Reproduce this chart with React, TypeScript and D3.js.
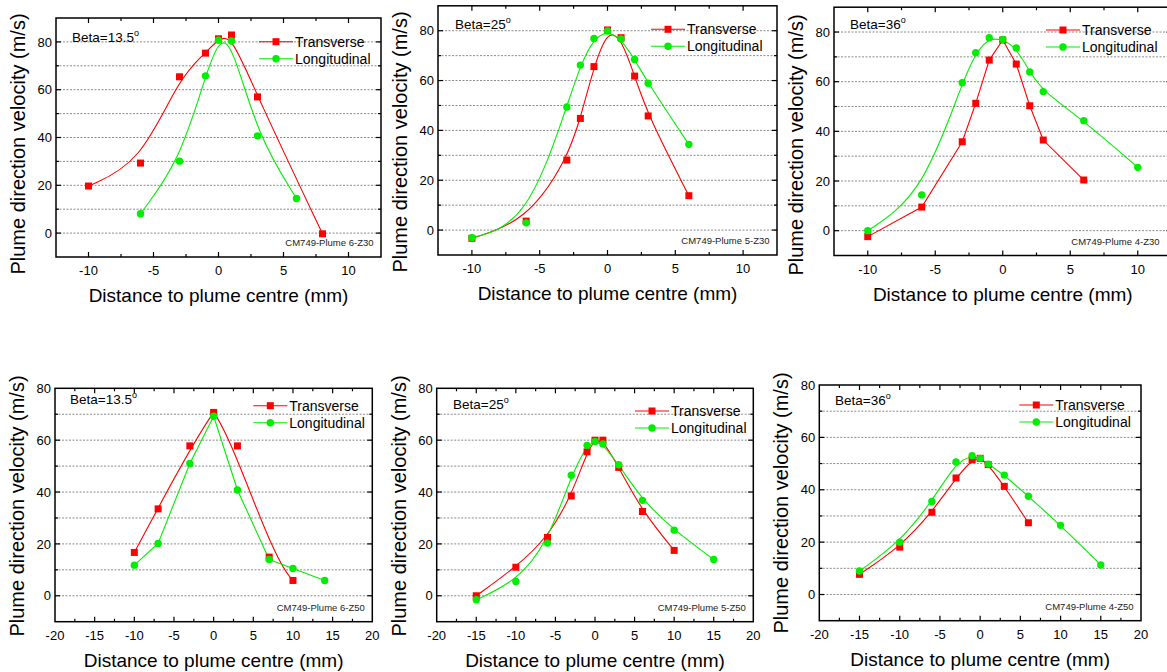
import React from 'react';
import * as d3 from 'd3';

// ---------------- data ----------------
// Top row (Z30)
const p1TransX = [-10, -6, -3, -1, 0, 1, 3, 8];
const p1TransY = [19.7, 29.3, 65.4, 75.3, 81.3, 82.9, 57, -0.3];
const p1LongX = [-6, -3, -1, 0, 1, 3, 6];
const p1LongY = [8.1, 30.1, 65.8, 80.7, 80.4, 40.7, 14.5];

const p2TransX = [-10, -6, -3, -2, -1, 0, 1, 2, 3, 6];
const p2TransY = [-3.3, 3.6, 28.1, 44.8, 65.6, 80.3, 77.2, 61.8, 45.8, 13.8];
const p2LongX = [-10, -6, -3, -2, -1, 0, 1, 2, 3, 6];
const p2LongY = [-3.1, 2.9, 49.4, 66.2, 76.9, 79.9, 76.7, 68.5, 58.9, 34.4];

const p3TransX = [-10, -6, -3, -2, -1, 0, 1, 2, 3, 6];
const p3TransY = [-2.4, 9.5, 35.8, 51.3, 68.7, 76.8, 67.1, 50.3, 36.5, 20.4];
const p3LongX = [-10, -6, -3, -2, -1, 0, 1, 2, 3, 6, 10];
const p3LongY = [0, 14.4, 59.6, 71.7, 77.7, 77, 73.6, 63.9, 56, 44.3, 25.5];

// Bottom row (Z50)
const p4TransX = [-10, -7, -3, 0, 3, 7, 10];
const p4TransY = [16.7, 33.5, 57.8, 70.7, 57.8, 14.9, 5.9];
const p4LongX = [-10, -7, -3, 0, 3, 7, 10, 14];
const p4LongY = [11.8, 20.2, 51, 69.2, 40.8, 14, 10.5, 5.9];

const p5TransX = [-15, -10, -6, -3, -1, 0, 1, 3, 6, 10];
const p5TransY = [0, 11, 22.5, 38.5, 55.5, 60, 60, 49.5, 32.5, 17.5];
const p5LongX = [-15, -10, -6, -3, -1, 0, 1, 3, 6, 10, 15];
const p5LongY = [-1.5, 5.5, 20.3, 46.5, 58, 59.5, 58.5, 50.5, 36.8, 25.3, 14];

const p6TransX = [-15, -10, -6, -3, -1, 0, 1, 3, 6];
const p6TransY = [7.7, 18.1, 31.4, 44.5, 51.5, 52, 49.6, 41.3, 27.4];
const p6LongX = [-15, -10, -6, -3, -1, 0, 1, 3, 6, 10, 15];
const p6LongY = [9, 20, 35.5, 50.6, 53, 52, 49.8, 45.6, 37.5, 26.4, 11.3];

// ticks / labels
const xTicksTop = [-10, -5, 0, 5, 10];
const xTicksBottom = [-20, -15, -10, -5, 0, 5, 10, 15, 20];
const yTicks = [0, 20, 40, 60, 80];
const gridValues = [0, 10, 20, 30, 40, 50, 60, 70, 80];
const betaLabels = ['13.5', '25', '36', '13.5', '25', '36'];
const tags = [
  'CM749-Plume 6-Z30',
  'CM749-Plume 5-Z30',
  'CM749-Plume 4-Z30',
  'CM749-Plume 6-Z50',
  'CM749-Plume 5-Z50',
  'CM749-Plume 4-Z50',
];
const seriesNames = ['Transverse', 'Longitudinal'];
const xTitle = 'Distance to plume centre (mm)';
const yTitle = 'Plume direction velocity (m/s)';

// Origin-style Bezier connection (groups of 4 points sharing endpoints)
function curveOriginBezier(context: any) {
  let pts: [number, number][] = [];
  return {
    areaStart() {},
    areaEnd() {},
    lineStart() {
      pts = [];
    },
    point(x: number, y: number) {
      pts.push([+x, +y]);
    },
    lineEnd() {
      if (!pts.length) return;
      context.moveTo(pts[0][0], pts[0][1]);
      let i = 0;
      for (; i + 3 < pts.length; i += 3) {
        context.bezierCurveTo(
          pts[i + 1][0], pts[i + 1][1],
          pts[i + 2][0], pts[i + 2][1],
          pts[i + 3][0], pts[i + 3][1]
        );
      }
      for (i = i + 1; i < pts.length; i++) context.lineTo(pts[i][0], pts[i][1]);
    },
  };
}

const zip = (xs: number[], ys: number[]) => xs.map((v, i) => [v, ys[i]] as [number, number]);

// ---------------- layout ----------------
const FONT = '"Liberation Sans", Arial, Helvetica, sans-serif';
const RED = '#ff0000';
const GREEN = '#00ee00';

type PanelCfg = {
  left: number; top: number; right: number; bottom: number;
  xDomain: [number, number]; yDomain: [number, number];
  xTicks: number[]; xStep: number;
  trans: [number, number][]; long: [number, number][];
  transCurve: any; longCurve: any;
  beta: string; tag: string;
  betaX: number; betaY: number;
  legX: number; legY: number;
  yTitleY: number;
};

const panels: PanelCfg[] = [
  {
    left: 56, top: 18, right: 381, bottom: 257,
    xDomain: [-12.5, 12.5], yDomain: [-10, 90], xTicks: xTicksTop, xStep: 5,
    trans: zip(p1TransX, p1TransY), long: zip(p1LongX, p1LongY),
    transCurve: d3.curveBasis, longCurve: d3.curveBasis,
    beta: betaLabels[0], tag: tags[0],
    betaX: 72, betaY: 42, legX: 259, legY: 41.7, yTitleY: 144,
  },
  {
    left: 438, top: 5.8, right: 777, bottom: 255,
    xDomain: [-12.5, 12.5], yDomain: [-10, 90], xTicks: xTicksTop, xStep: 5,
    trans: zip(p2TransX, p2TransY), long: zip(p2LongX, p2LongY),
    transCurve: d3.curveBasis, longCurve: d3.curveBasis,
    beta: betaLabels[1], tag: tags[1],
    betaX: 455, betaY: 28.5, legX: 651, legY: 29.3, yTitleY: 142,
  },
  {
    left: 834, top: 7.2, right: 1171.5, bottom: 255.5,
    xDomain: [-12.5, 12.5], yDomain: [-10, 90], xTicks: xTicksTop, xStep: 5,
    trans: zip(p3TransX, p3TransY), long: zip(p3LongX, p3LongY),
    transCurve: d3.curveLinear, longCurve: d3.curveBasis,
    beta: betaLabels[2], tag: tags[2],
    betaX: 850, betaY: 28.5, legX: 1046, legY: 30, yTitleY: 145,
  },
  {
    left: 55, top: 388.3, right: 372.3, bottom: 621.7,
    xDomain: [-20, 20], yDomain: [-10, 80], xTicks: xTicksBottom, xStep: 5,
    trans: zip(p4TransX, p4TransY), long: zip(p4LongX, p4LongY),
    transCurve: curveOriginBezier, longCurve: d3.curveLinear,
    beta: betaLabels[3], tag: tags[3],
    betaX: 70, betaY: 404, legX: 253.3, legY: 405.7, yTitleY: 506,
  },
  {
    left: 436.7, top: 388.3, right: 753.3, bottom: 621.7,
    xDomain: [-20, 20], yDomain: [-10, 80], xTicks: xTicksBottom, xStep: 5,
    trans: zip(p5TransX, p5TransY), long: zip(p5LongX, p5LongY),
    transCurve: d3.curveBasis, longCurve: d3.curveBasis,
    beta: betaLabels[4], tag: tags[4],
    betaX: 453, betaY: 409, legX: 635, legY: 411, yTitleY: 506,
  },
  {
    left: 819.3, top: 385, right: 1141, bottom: 620.7,
    xDomain: [-20, 20], yDomain: [-10, 80], xTicks: xTicksBottom, xStep: 5,
    trans: zip(p6TransX, p6TransY), long: zip(p6LongX, p6LongY),
    transCurve: d3.curveBasis, longCurve: d3.curveBasis,
    beta: betaLabels[5], tag: tags[5],
    betaX: 835, betaY: 405, legX: 1019.3, legY: 405, yTitleY: 503,
  },
];

const MAJOR = 5;
const MINOR = 3;

function Panel({ c }: { c: PanelCfg }) {
  const x = d3.scaleLinear().domain(c.xDomain).range([c.left, c.right]);
  const y = d3.scaleLinear().domain(c.yDomain).range([c.bottom, c.top]);
  const eps = 1e-6;
  const inX = (v: number) => v > c.xDomain[0] + eps && v < c.xDomain[1] - eps;
  const inY = (v: number) => v > c.yDomain[0] + eps && v < c.yDomain[1] - eps;

  const xMinor: number[] = [];
  for (let v = c.xTicks[0] - c.xStep / 2; v <= c.xDomain[1]; v += c.xStep) if (inX(v)) xMinor.push(v);
  const xMajor = c.xTicks.filter(inX);
  const yStep = yTicks[1] - yTicks[0];
  const yMinor: number[] = [];
  for (let v = yTicks[0] - yStep / 2; v <= c.yDomain[1]; v += yStep) if (inY(v)) yMinor.push(v);
  const yMajor = yTicks.filter(inY);

  const line = (curve: any) =>
    d3.line<[number, number]>().x((d) => x(d[0])).y((d) => y(d[1])).curve(curve);

  const sq = 7;
  const r = 3.7;
  const legLen = 34;
  const legGap = 17;

  return (
    <g>
      {/* grid */}
      {gridValues.filter(inY).map((v) => (
        <line key={'g' + v} x1={c.left} x2={c.right} y1={y(v)} y2={y(v)}
          stroke="#8a8a8a" strokeWidth={1} strokeDasharray="2,1.5" />
      ))}
      {/* ticks */}
      {xMajor.map((v) => (
        <g key={'xM' + v}>
          <line x1={x(v)} x2={x(v)} y1={c.bottom} y2={c.bottom - MAJOR} stroke="#000" strokeWidth={1.2} />
          <line x1={x(v)} x2={x(v)} y1={c.top} y2={c.top + MAJOR} stroke="#000" strokeWidth={1.2} />
        </g>
      ))}
      {xMinor.map((v) => (
        <g key={'xm' + v}>
          <line x1={x(v)} x2={x(v)} y1={c.bottom} y2={c.bottom - MINOR} stroke="#000" strokeWidth={1.2} />
          <line x1={x(v)} x2={x(v)} y1={c.top} y2={c.top + MINOR} stroke="#000" strokeWidth={1.2} />
        </g>
      ))}
      {yMajor.map((v) => (
        <g key={'yM' + v}>
          <line x1={c.left} x2={c.left + MAJOR} y1={y(v)} y2={y(v)} stroke="#000" strokeWidth={1.2} />
          <line x1={c.right} x2={c.right - MAJOR} y1={y(v)} y2={y(v)} stroke="#000" strokeWidth={1.2} />
        </g>
      ))}
      {yMinor.map((v) => (
        <g key={'ym' + v}>
          <line x1={c.left} x2={c.left + MINOR} y1={y(v)} y2={y(v)} stroke="#000" strokeWidth={1.2} />
          <line x1={c.right} x2={c.right - MINOR} y1={y(v)} y2={y(v)} stroke="#000" strokeWidth={1.2} />
        </g>
      ))}
      {/* frame */}
      <rect x={c.left} y={c.top} width={c.right - c.left} height={c.bottom - c.top}
        fill="none" stroke="#000" strokeWidth={1.5} />
      {/* tick labels */}
      {c.xTicks.map((v) => (
        <text key={'xl' + v} x={x(v)} y={c.bottom + 18} textAnchor="middle" fontSize={13} fontFamily={FONT}>
          {v}
        </text>
      ))}
      {yTicks.map((v) => (
        <text key={'yl' + v} x={c.left - 4} y={y(v) + 4.7} textAnchor="end" fontSize={13} fontFamily={FONT}>
          {v}
        </text>
      ))}
      {/* axis titles */}
      <text x={(c.left + c.right) / 2} y={c.bottom + 45} textAnchor="middle" fontSize={19} fontFamily={FONT}>
        {xTitle}
      </text>
      <text transform={`translate(${c.left - 31},${c.yTitleY}) rotate(-90)`} textAnchor="middle" fontSize={20} fontFamily={FONT}>
        {yTitle}
      </text>
      {/* series lines */}
      <path d={line(c.trans.length ? c.transCurve : d3.curveLinear)(c.trans) || ''} fill="none" stroke={RED} strokeWidth={1.1} />
      <path d={line(c.longCurve)(c.long) || ''} fill="none" stroke={GREEN} strokeWidth={1.1} />
      {/* markers */}
      {c.trans.map((d, i) => (
        <rect key={'t' + i} x={x(d[0]) - sq / 2} y={y(d[1]) - sq / 2} width={sq} height={sq} fill={RED} />
      ))}
      {c.long.map((d, i) => (
        <circle key={'l' + i} cx={x(d[0])} cy={y(d[1])} r={r} fill={GREEN} />
      ))}
      {/* beta label */}
      <text x={c.betaX} y={c.betaY} fontSize={13.5} fontFamily={FONT}>
        {'Beta=' + c.beta}
        <tspan dy={-6} fontSize={9}>o</tspan>
      </text>
      {/* legend */}
      {seriesNames.map((name, i) => {
        const ly = c.legY + i * legGap;
        const col = i === 0 ? RED : GREEN;
        const mx = c.legX + legLen / 2;
        return (
          <g key={name}>
            <line x1={c.legX} x2={c.legX + legLen} y1={ly} y2={ly} stroke={col} strokeWidth={1.1} />
            {i === 0 ? (
              <rect x={mx - sq / 2} y={ly - sq / 2} width={sq} height={sq} fill={col} />
            ) : (
              <circle cx={mx} cy={ly} r={r} fill={col} />
            )}
            <text x={c.legX + legLen + 2} y={ly + 5} fontSize={14} fontFamily={FONT}>
              {name}
            </text>
          </g>
        );
      })}
      {/* tag */}
      <text x={Math.min(c.right, 1167) - 7.5} y={c.bottom - 11} textAnchor="end" fontSize={9.5} fontFamily={FONT} fill="#222">
        {c.tag}
      </text>
    </g>
  );
}

export default function App() {
  return (
    <svg width={1167} height={672} style={{ position: 'absolute', left: 0, top: 0, background: '#fff' }}>
      <rect x={0} y={0} width={1167} height={672} fill="#fff" />
      {panels.map((c, i) => (
        <Panel key={i} c={c} />
      ))}
    </svg>
  );
}
